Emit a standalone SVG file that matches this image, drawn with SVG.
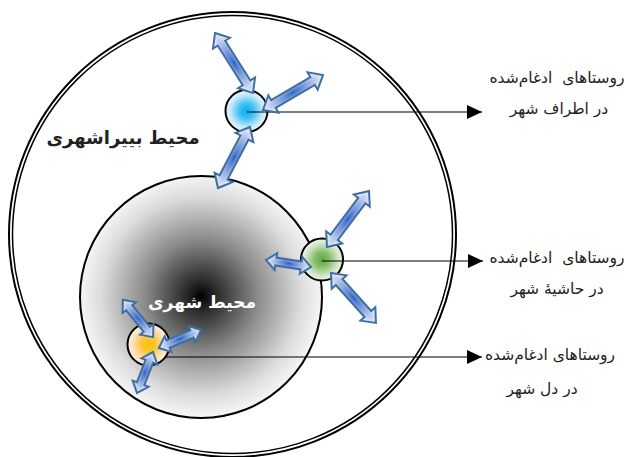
<svg xmlns="http://www.w3.org/2000/svg" width="624" height="457" viewBox="0 0 624 457">
<style>
.ring{fill:none;stroke:#000}
.node{stroke:#000;stroke-width:2}
.arw{fill:url(#gArrow);stroke:#3d6fa3;stroke-width:2;stroke-linejoin:miter}
.conn{stroke:#000;stroke-width:1.2;fill:none;marker-end:url(#head)}
.lbl{font-family:"DejaVu Sans","Noto Sans",sans-serif;font-size:15.5px;fill:#222;text-anchor:middle;white-space:pre}
.big{font-family:"DejaVu Sans","Noto Sans",sans-serif;font-weight:bold;text-anchor:middle}
</style>
<defs>
<radialGradient id="gCity" cx="201" cy="296" r="125" gradientUnits="userSpaceOnUse">
<stop offset="0" stop-color="#000"/>
<stop offset="0.12" stop-color="#2a2a2a"/>
<stop offset="0.45" stop-color="#8a8a8a"/>
<stop offset="0.8" stop-color="#dcdcdc"/>
<stop offset="1" stop-color="#fafafa"/>
</radialGradient>
<radialGradient id="gBlue" cx="0.5" cy="0.5" r="0.5">
<stop offset="0" stop-color="#00b0f0"/>
<stop offset="0.35" stop-color="#3fc0f2"/>
<stop offset="0.75" stop-color="#bfe6fa"/>
<stop offset="1" stop-color="#eef8fd"/>
</radialGradient>
<radialGradient id="gGreen" cx="0.5" cy="0.5" r="0.5">
<stop offset="0" stop-color="#5fa83c"/>
<stop offset="0.35" stop-color="#86bd6c"/>
<stop offset="0.75" stop-color="#cfe5c4"/>
<stop offset="1" stop-color="#eef6ea"/>
</radialGradient>
<radialGradient id="gOrange" cx="0.5" cy="0.5" r="0.5">
<stop offset="0" stop-color="#ffc000"/>
<stop offset="0.35" stop-color="#fcc63a"/>
<stop offset="0.75" stop-color="#fbe0bd"/>
<stop offset="1" stop-color="#fdf1e4"/>
</radialGradient>
<radialGradient id="gArrow" cx="0.5" cy="0.5" r="0.5">
<stop offset="0" stop-color="#1f5cc8"/>
<stop offset="0.12" stop-color="#4a76cf"/>
<stop offset="0.55" stop-color="#9bb3e3"/>
<stop offset="1" stop-color="#eef2fb"/>
</radialGradient>
<marker id="head" markerUnits="userSpaceOnUse" markerWidth="15" markerHeight="14" refX="15" refY="7" viewBox="0 0 15 14" orient="auto">
<path d="M0,0 L15,7 L0,14 Z" fill="#000"/>
</marker>
</defs>

<g id="outer-ring">
<ellipse class="ring" cx="232.5" cy="234.5" rx="223.5" ry="222.5" stroke-width="2"/>
<ellipse class="ring" cx="232.5" cy="234.5" rx="220" ry="219" stroke-width="1.5"/>
</g>

<g id="city">
<circle cx="201" cy="297" r="121" fill="url(#gCity)" stroke="#000" stroke-width="2"/>
</g>

<g id="label-peri">
<text class="big" x="123" y="144" font-size="18" fill="#222">محیط بییراشهری</text>
</g>
<g id="label-city">
<text class="big" x="202" y="308" font-size="17" fill="#fff">محیط شهری</text>
</g>

<g id="node-blue">
<circle class="node" cx="246.5" cy="111" r="21" fill="url(#gBlue)"/>
</g>
<g id="node-green">
<circle class="node" cx="322" cy="259.5" r="21" fill="url(#gGreen)"/>
</g>
<g id="node-orange">
<circle class="node" cx="148.5" cy="344.5" r="21" fill="url(#gOrange)"/>
</g>

<g id="connectors">
<line class="conn" x1="247" y1="112" x2="482" y2="112"/>
<line class="conn" x1="322" y1="261" x2="483" y2="261"/>
<line class="conn" x1="165" y1="357" x2="482" y2="357"/>
</g>

<g id="arrows-blue">
<path class="arw" transform="translate(234,63) rotate(57.7)" d="M-35.5,0 L-23.5,-10 L-23.5,-4.5 L23.5,-4.5 L23.5,-10 L35.5,0 L23.5,10 L23.5,4.5 L-23.5,4.5 L-23.5,10 Z"/>
<path class="arw" transform="translate(293,92.5) rotate(-30.3)" d="M-34.75,0 L-22.75,-10 L-22.75,-4.5 L22.75,-4.5 L22.75,-10 L34.75,0 L22.75,10 L22.75,4.5 L-22.75,4.5 L-22.75,10 Z"/>
<path class="arw" transform="translate(234,157.5) rotate(117.7)" d="M-34.5,0 L-22.5,-10 L-22.5,-4.5 L22.5,-4.5 L22.5,-10 L34.5,0 L22.5,10 L22.5,4.5 L-22.5,4.5 L-22.5,10 Z"/>
</g>
<g id="arrows-green">
<path class="arw" transform="translate(348,219) rotate(-53.1)" d="M-35,0 L-23,-10 L-23,-4.5 L23,-4.5 L23,-10 L35,0 L23,10 L23,4.5 L-23,4.5 L-23,10 Z"/>
<path class="arw" transform="translate(288.5,263.5) rotate(8.8)" d="M-22.75,0 L-12.75,-8.5 L-12.75,-4 L12.75,-4 L12.75,-8.5 L22.75,0 L12.75,8.5 L12.75,4 L-12.75,4 L-12.75,8.5 Z"/>
<path class="arw" transform="translate(353.5,298) rotate(48)" d="M-33.5,0 L-21.5,-10 L-21.5,-4.5 L21.5,-4.5 L21.5,-10 L33.5,0 L21.5,10 L21.5,4.5 L-21.5,4.5 L-21.5,10 Z"/>
</g>
<g id="arrows-orange">
<path class="arw" transform="translate(138,318.5) rotate(51)" d="M-24,0 L-14,-8.5 L-14,-4 L14,-4 L14,-8.5 L24,0 L14,8.5 L14,4 L-14,4 L-14,8.5 Z"/>
<path class="arw" transform="translate(180,339) rotate(-23.2)" d="M-23,0 L-13,-8.5 L-13,-4 L13,-4 L13,-8.5 L23,0 L13,8.5 L13,4 L-13,4 L-13,8.5 Z"/>
<path class="arw" transform="translate(145,372.5) rotate(111.3)" d="M-22,0 L-12,-8.5 L-12,-4 L12,-4 L12,-8.5 L22,0 L12,8.5 L12,4 L-12,4 L-12,8.5 Z"/>
</g>

<g id="label-suburb">
<text class="lbl" x="557" y="83" xml:space="preserve">روستاهای  ادغام‌شده</text>
<text class="lbl" x="559" y="114">در اطراف شهر</text>
</g>
<g id="label-fringe">
<text class="lbl" x="557" y="263" xml:space="preserve">روستاهای  ادغام‌شده</text>
<text class="lbl" x="557" y="294">در حاشیهٔ شهر</text>
</g>
<g id="label-inner">
<text class="lbl" x="550" y="360">روستاهای ادغام‌شده</text>
<text class="lbl" x="542" y="394">در دل شهر</text>
</g>
</svg>
